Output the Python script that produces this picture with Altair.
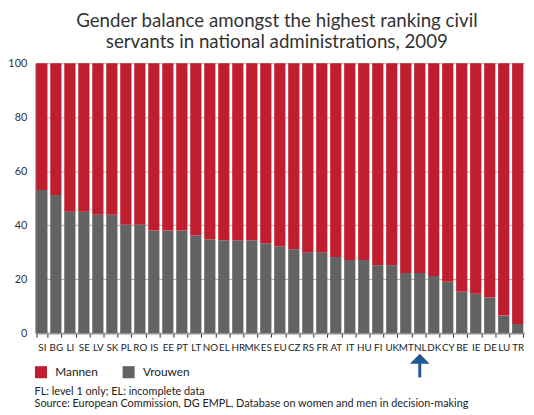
import altair as alt
import pandas as pd

countries = ["SI", "BG", "LI", "SE", "LV", "SK", "PL", "RO", "IS", "EE", "PT", "LT",
             "NO", "EL", "HR", "MK", "ES", "EU", "CZ", "RS", "FR", "AT", "IT", "HU",
             "FI", "UK", "MT", "NL", "DK", "CY", "BE", "IE", "DE", "LU", "TR"]
women = [53.0, 51.2, 45.0, 45.0, 43.9, 43.9, 40.2, 40.2, 38.0, 38.0, 38.0, 36.2,
         34.8, 34.4, 34.4, 34.4, 33.3, 32.2, 31.1, 30.0, 30.0, 28.2, 27.1, 27.1,
         25.2, 25.2, 22.3, 22.3, 21.2, 19.0, 15.3, 14.6, 13.2, 6.5, 3.4]
men = [round(100 - w, 1) for w in women]
series = ["Mannen", "Vrouwen"]
colors = ["#BE1E2D", "#636363"]
title_lines = ["Gender balance amongst the highest ranking civil",
               "servants in national administrations, 2009"]
note1 = "FL: level 1 only; EL: incomplete data"
note2 = "Source: European Commission, DG EMPL, Database on women and men in decision-making"
highlight = "NL"

rows = []
for c, w, m in zip(countries, women, men):
    rows.append({"Country": c, "Gender": "Vrouwen", "Value": w, "ord": 0})
    rows.append({"Country": c, "Gender": "Mannen", "Value": m, "ord": 1})
df = pd.DataFrame(rows)

FONT = "Lato"

xscale = alt.Scale(domain=countries, paddingInner=0.2, paddingOuter=0.05)

bars = alt.Chart(df).mark_bar().encode(
    x=alt.X("Country:N", scale=xscale, sort=countries,
            axis=alt.Axis(title=None, labelAngle=0, labelFontSize=10, labelColor="#222",
                          labelPadding=6, domain=True, domainColor="#999", domainWidth=2,
                          ticks=True, tickBand="extent", tickSize=4, tickColor="#222",
                          labelFont=FONT)),
    y=alt.Y("Value:Q", stack="zero", scale=alt.Scale(domain=[0, 100], nice=False),
            axis=alt.Axis(title=None, values=[0, 20, 40, 60, 80, 100], grid=True,
                          gridColor="#aaaaaa", gridWidth=1, domainColor="#333",
                          ticks=False, labelFontSize=11, labelColor="#333",
                          labelPadding=9, labelFont=FONT)),
    color=alt.Color("Gender:N", scale=alt.Scale(domain=series, range=colors),
                    legend=alt.Legend(title=None, orient="none", legendX=-1, legendY=307,
                                      direction="horizontal", symbolType="square",
                                      symbolSize=150, symbolStrokeWidth=0, symbolOpacity=1,
                                      labelFontSize=12, labelColor="#222", labelFont=FONT,
                                      labelOffset=8, columnPadding=24)),
    order=alt.Order("ord:Q"),
)

arrow_color = "#22578F"
sel = (alt.datum.Country == highlight) & (alt.datum.Gender == "Vrouwen")
shaft = alt.Chart(df).mark_rule(color=arrow_color, strokeWidth=3).encode(
    x=alt.X("Country:N", scale=xscale, sort=countries),
    y=alt.value(304), y2=alt.value(319),
).transform_filter(sel)
head = alt.Chart(df).mark_point(
    shape="M-1,0.5L1,0.5L0,-0.5Z", size=400, filled=True, color=arrow_color, opacity=1
).encode(
    x=alt.X("Country:N", scale=xscale, sort=countries),
    y=alt.value(300),
).transform_filter(sel)

text_style = dict(align="left", baseline="middle", fontSize=11, color="#222", font=FONT)
n1 = alt.Chart(pd.DataFrame({"t": [note1]})).mark_text(**text_style).encode(
    text="t:N", x=alt.value(-1), y=alt.value(334))
n2 = alt.Chart(pd.DataFrame({"t": [note2]})).mark_text(**text_style).encode(
    text="t:N", x=alt.value(-1), y=alt.value(346))

chart = alt.layer(bars, shaft, head, n1, n2).properties(
    width=496, height=274,
    padding={"left": 28, "top": 53, "right": 2, "bottom": 80},
    autosize=alt.AutoSizeParams(type="none"),
    title=alt.TitleParams(text=title_lines, fontSize=19, font=FONT, fontWeight="normal",
                          color="#333", anchor="middle", dx=-3, offset=6, lineHeight=21),
).configure_view(stroke=None)

chart.save("out.html", embed_options={"renderer": "svg", "actions": False})
